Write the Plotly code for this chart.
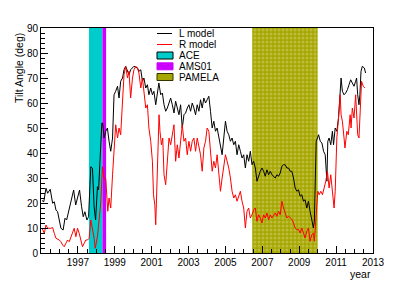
import plotly.graph_objects as go

# ---------------- data ----------------
l_years = [1995.05, 1995.15, 1995.27, 1995.36, 1995.5, 1995.63, 1995.72, 1995.81, 1995.9, 1996.0,
           1996.08, 1996.2, 1996.3, 1996.39, 1996.53, 1996.66, 1996.77, 1996.88, 1996.98, 1997.09,
           1997.2, 1997.29, 1997.38, 1997.49, 1997.58, 1997.7, 1997.79, 1997.88, 1997.96, 1998.06,
           1998.12, 1998.19, 1998.24, 1998.3, 1998.34, 1998.42, 1998.51, 1998.6, 1998.69, 1998.78,
           1998.88, 1998.96, 1999.05, 1999.15, 1999.23, 1999.32, 1999.42, 1999.5, 1999.59, 1999.69,
           1999.77, 1999.86, 1999.96, 2000.04, 2000.14, 2000.23, 2000.31, 2000.41, 2000.5, 2000.58,
           2000.68, 2000.77, 2000.85, 2000.95, 2001.04, 2001.12, 2001.22, 2001.31, 2001.39, 2001.49,
           2001.58, 2001.67, 2001.76, 2001.85, 2001.94, 2002.03, 2002.12, 2002.21, 2002.3, 2002.39,
           2002.48, 2002.57, 2002.66, 2002.75, 2002.84, 2002.93, 2003.02, 2003.11, 2003.2, 2003.29,
           2003.38, 2003.47, 2003.56, 2003.65, 2003.74, 2003.83, 2003.92, 2004.01, 2004.1, 2004.19,
           2004.28, 2004.37, 2004.46, 2004.55, 2004.64, 2004.73, 2004.82, 2004.91, 2005.0, 2005.09,
           2005.18, 2005.27, 2005.36, 2005.45, 2005.54, 2005.63, 2005.72, 2005.81, 2005.9, 2005.99,
           2006.08, 2006.17, 2006.26, 2006.35, 2006.44, 2006.53, 2006.62, 2006.71, 2006.8, 2006.89,
           2006.98, 2007.07, 2007.16, 2007.25, 2007.34, 2007.43, 2007.52, 2007.61, 2007.7, 2007.79,
           2007.88, 2007.97, 2008.06, 2008.15, 2008.24, 2008.33, 2008.42, 2008.51, 2008.6, 2008.69,
           2008.78, 2008.87, 2008.96, 2009.05, 2009.14, 2009.23, 2009.32, 2009.41, 2009.5, 2009.59,
           2009.68, 2009.77, 2009.82, 2009.92, 2009.99, 2010.05, 2010.14, 2010.23, 2010.32, 2010.41,
           2010.5, 2010.55, 2010.62, 2010.71, 2010.8, 2010.86, 2010.95, 2011.04, 2011.13, 2011.22,
           2011.27, 2011.34, 2011.43, 2011.52, 2011.61, 2011.7, 2011.79, 2011.88, 2011.97, 2012.06,
           2012.11, 2012.17, 2012.24, 2012.29, 2012.35, 2012.42, 2012.53, 2012.6]
l_values = [21, 20.5, 25.9, 23.9, 25.5, 19.9, 20.5, 17.2, 16.5, 13.2,
            9.9, 9.2, 13.9, 13.2, 17.2, 21.2, 25.2, 19.2, 21.9, 25.2,
            18.5, 14.5, 16.5, 13.2, 14.5, 34.5, 33.9, 18.5, 13.2, 26.5,
            25.2, 35.9, 45, 52, 52, 46, 48.7, 50, 44.7, 40.7,
            46, 63.3, 64.7, 66.7, 62, 68.7, 70, 73.3, 74.7, 72.7,
            71.3, 73.3, 74.3, 74.7, 74.3, 74, 72.7, 73.3, 68.7, 70,
            66, 67.3, 63.3, 66, 63.3, 64.7, 59.3, 63.3, 68, 63.3,
            64, 59.3, 56.7, 58, 60, 62, 59.3, 56, 60.7, 57.3,
            55.3, 59.3, 50, 55.3, 56, 58, 59.3, 56.7, 60, 58,
            55.3, 59.3, 56.7, 61.3, 58, 62, 60, 61.3, 62.7, 56.7,
            50, 52.7, 48.7, 50, 46, 42, 39.3, 46, 52.7, 48.7,
            47.3, 44.7, 46, 43.3, 44.7, 39.3, 43.3, 40.7, 38, 39.3,
            34, 39.3, 36.7, 40.7, 35.3, 36.7, 34, 28.7, 31.3, 32.7,
            34, 32.7, 30.7, 33.3, 31.3, 32.7, 31.3, 30.7, 30, 31.3,
            30.7, 32, 34.7, 35.3, 35.3, 34, 34, 32.7, 32.7, 30,
            26, 24.7, 25.3, 22.7, 23.3, 20.7, 21.3, 18, 20.7, 16.7,
            12.7, 10, 12.7, 44.7, 46, 47.3, 44.7, 44, 40.7, 39.3,
            28.7, 44.7, 46, 43.3, 48.7, 43.3, 50, 48.7, 54, 62,
            70, 64.7, 63.3, 64, 65.3, 67.3, 69.3, 68, 66.7, 68.7,
            70, 63.3, 59.3, 63.3, 72.7, 74.7, 74, 72]

r_years = [1995.05, 1995.09, 1995.18, 1995.27, 1995.36, 1995.54, 1995.63, 1995.72, 1995.81, 1995.99,
           1996.08, 1996.17, 1996.26, 1996.35, 1996.44, 1996.53, 1996.62, 1996.71, 1996.8, 1996.89,
           1996.98, 1997.07, 1997.16, 1997.25, 1997.34, 1997.43, 1997.52, 1997.61, 1997.7, 1997.79,
           1997.88, 1997.94, 1998.06, 1998.15, 1998.24, 1998.33, 1998.42, 1998.51, 1998.62, 1998.69,
           1998.78, 1998.88, 1998.96, 1999.05, 1999.15, 1999.23, 1999.32, 1999.42, 1999.5, 1999.59,
           1999.69, 1999.77, 1999.86, 1999.96, 2000.04, 2000.14, 2000.23, 2000.31, 2000.41, 2000.5,
           2000.58, 2000.68, 2000.77, 2000.85, 2000.95, 2001.04, 2001.1, 2001.17, 2001.22, 2001.27,
           2001.35, 2001.4, 2001.45, 2001.53, 2001.6, 2001.67, 2001.76, 2001.85, 2001.94, 2002.03,
           2002.12, 2002.21, 2002.3, 2002.39, 2002.48, 2002.57, 2002.66, 2002.75, 2002.84, 2002.93,
           2003.02, 2003.11, 2003.2, 2003.29, 2003.38, 2003.47, 2003.56, 2003.65, 2003.74, 2003.83,
           2003.92, 2004.01, 2004.1, 2004.19, 2004.28, 2004.37, 2004.46, 2004.55, 2004.64, 2004.73,
           2004.82, 2004.91, 2005.0, 2005.09, 2005.18, 2005.27, 2005.36, 2005.45, 2005.54, 2005.63,
           2005.72, 2005.81, 2005.9, 2005.99, 2006.08, 2006.17, 2006.26, 2006.35, 2006.44, 2006.53,
           2006.62, 2006.71, 2006.8, 2006.89, 2006.98, 2007.07, 2007.16, 2007.25, 2007.34, 2007.43,
           2007.52, 2007.61, 2007.7, 2007.79, 2007.88, 2007.97, 2008.06, 2008.15, 2008.24, 2008.33,
           2008.42, 2008.51, 2008.6, 2008.69, 2008.78, 2008.87, 2008.96, 2009.05, 2009.14, 2009.23,
           2009.32, 2009.41, 2009.5, 2009.59, 2009.68, 2009.77, 2009.82, 2009.92, 2010.01, 2010.08,
           2010.17, 2010.26, 2010.35, 2010.44, 2010.53, 2010.62, 2010.71, 2010.8, 2010.89, 2010.95,
           2011.04, 2011.13, 2011.22, 2011.27, 2011.34, 2011.43, 2011.48, 2011.58, 2011.66, 2011.76,
           2011.81, 2011.88, 2011.97, 2012.06, 2012.11, 2012.17, 2012.24, 2012.29, 2012.38, 2012.47,
           2012.56]
r_values = [10, 9.2, 7.9, 11.2, 9.9, 9.9, 10.2, 7.9, 5.9, 5.2,
            4.5, 3.2, 2.5, 3.9, 5.2, 4.5, 6.5, 8.5, 9.9, 6.5,
            9.9, 7.9, 5.2, 2.5, 3.9, 5.2, 5.2, 5.9, 13.2, 9.9,
            5.9, 1.9, 6.5, 13.2, 19.9, 34.5, 30, 29.7, 16.7, 22,
            18, 31.3, 39.3, 51.3, 46, 50, 47.3, 63.3, 71.3, 74.7,
            70, 72.7, 62, 70, 73.3, 74.7, 74, 72, 66, 70,
            64.7, 58, 59.3, 50, 44.7, 36.7, 23.3, 19.3, 11.3, 26,
            46, 55.3, 48.7, 43.3, 46, 31.3, 27.3, 36.7, 46, 43.3,
            47.3, 51.3, 36.7, 43.3, 38, 46, 51.3, 44.7, 46, 39.3,
            44.7, 40.7, 44.7, 46, 40.7, 46, 42, 39.3, 32.7, 42,
            44.7, 50, 48.7, 40.7, 32.7, 36.7, 34, 39.3, 31.3, 24.7,
            30, 34, 39.3, 36.7, 34, 30, 24.7, 22, 23.3, 20.7,
            23.3, 24.7, 20.7, 18, 10, 16.7, 18, 14, 15.3, 17.3,
            18, 12.7, 15.3, 14, 12, 15.3, 14, 16, 13.3, 15.3,
            14, 15.3, 16, 14.7, 16.7, 15.3, 20.7, 18, 16, 14,
            14.7, 14, 13.5, 12, 10, 9.3, 9.5, 8, 10, 8,
            6, 8.7, 10, 4.7, 7.3, 8, 4.7, 15.3, 24.7, 23.3,
            24.7, 23.3, 26, 28.7, 32.7, 26, 31.3, 23.3, 18, 24.7,
            46, 54, 63.3, 55.3, 52.7, 46, 42, 48.7, 47.3, 55.3,
            50, 58, 54, 63.3, 55.3, 47.3, 46, 55.3, 68.7, 66.7,
            66]

band_names = ["ACE", "AMS01", "PAMELA"]
band_start = [1997.6, 1998.33, 2006.45]
band_end = [1998.33, 1998.53, 2010.0]

series_names = ["L model", "R model"]
y_ticks = [0, 10, 20, 30, 40, 50, 60, 70, 80, 90]
x_ticks = [1997, 1999, 2001, 2003, 2005, 2007, 2009, 2011, 2013]

# ---------------- style ----------------
FONT = "Liberation Sans, Arial, Helvetica, sans-serif"
C_ACE = "#00cccc"
C_AMS = "#cc00ff"
C_PAM = "#a6a600"
C_PAM_FG = "#d2d27a"
Y_MAX = 90

fig = go.Figure()

# bands
band_styles = [
    dict(fillcolor=C_ACE),
    dict(fillcolor=C_AMS),
    dict(fillcolor=C_PAM, fillpattern=dict(shape=".", bgcolor=C_PAM, fgcolor=C_PAM_FG,
                                           size=4, solidity=0.45)),
]
for name, s, e, st in zip(band_names, band_start, band_end, band_styles):
    fig.add_trace(go.Scatter(x=[s, s, e, e, s], y=[0, Y_MAX, Y_MAX, 0, 0], mode="none",
                             fill="toself", name=name, showlegend=False,
                             hoverinfo="skip", **st))

fig.add_trace(go.Scatter(x=l_years, y=l_values, mode="lines", name=series_names[0],
                         line=dict(color="black", width=1), showlegend=False))
fig.add_trace(go.Scatter(x=r_years, y=r_values, mode="lines", name=series_names[1],
                         line=dict(color="#ff0000", width=1), showlegend=False))

# ---------- custom compact legend (paper coords) ----------
L = 41; R = 373; T = 28; B = 253
def px(xp):
    return (xp - L) / (R - L)
def py(yp):
    return (B - yp) / (B - T)

rows = [33.5, 44.5, 55.5, 66.3, 77.0]
sx0, sx1, tx = 157, 172, 177
shapes = []
shapes.append(dict(type="line", xref="paper", yref="paper", x0=px(sx0), x1=px(sx1),
                   y0=py(rows[0]), y1=py(rows[0]), line=dict(color="black", width=1)))
shapes.append(dict(type="line", xref="paper", yref="paper", x0=px(sx0), x1=px(sx1),
                   y0=py(rows[1]), y1=py(rows[1]), line=dict(color="#ff0000", width=1)))
box_fill = [C_ACE, C_AMS, C_PAM]
box_line = ["black", C_AMS, "#333300"]
for i in range(3):
    yc = rows[2 + i]
    shapes.append(dict(type="rect", xref="paper", yref="paper", x0=px(sx0), x1=px(sx1 + 1),
                       y0=py(yc + 3.5), y1=py(yc - 3.5), fillcolor=box_fill[i],
                       line=dict(color=box_line[i], width=1)))

annotations = []
for name, yc in zip(series_names + band_names, rows):
    annotations.append(dict(text=name, xref="paper", yref="paper", x=px(tx), y=py(yc),
                            xanchor="left", yanchor="middle", showarrow=False,
                            font=dict(family=FONT, size=10, color="black")))

annotations.append(dict(text="Tilt Angle (deg)", xref="paper", yref="paper",
                        x=px(19), y=py(31), textangle=-90, xanchor="center",
                        yanchor="top", showarrow=False,
                        font=dict(family=FONT, size=10.5, color="black")))
annotations.append(dict(text="year", xref="paper", yref="paper", x=1.0, y=py(273.5),
                        xanchor="right", yanchor="middle", showarrow=False,
                        font=dict(family=FONT, size=10.5, color="black")))

fig.update_layout(
    width=415, height=282,
    margin=dict(l=L, r=415 - R, t=T, b=282 - B, pad=0, autoexpand=False),
    paper_bgcolor="white", plot_bgcolor="white",
    font=dict(family=FONT, size=10, color="black"),
    showlegend=False,
    shapes=shapes, annotations=annotations,
    xaxis=dict(range=[1995, 2013], tickmode="array", tickvals=x_ticks,
               ticks="inside", ticklen=7, tickcolor="black", showgrid=False,
               zeroline=False, showline=True, linecolor="black", linewidth=1,
               mirror=True, tickfont=dict(size=10),
               minor=dict(tickmode="linear", tick0=1995, dtick=0.5, ticks="inside",
                          ticklen=4, tickcolor="black", showgrid=False)),
    yaxis=dict(range=[0, Y_MAX], tickmode="array", tickvals=y_ticks,
               ticks="inside", ticklen=7, tickcolor="black", showgrid=False,
               zeroline=False, showline=True, linecolor="black", linewidth=1,
               mirror=True, tickfont=dict(size=10),
               minor=dict(tickmode="linear", tick0=0, dtick=2, ticks="inside",
                          ticklen=4, tickcolor="black", showgrid=False)),
)

fig.write_html("out.html", config={"displayModeBar": False},
               post_script="document.body.style.margin='0';")
